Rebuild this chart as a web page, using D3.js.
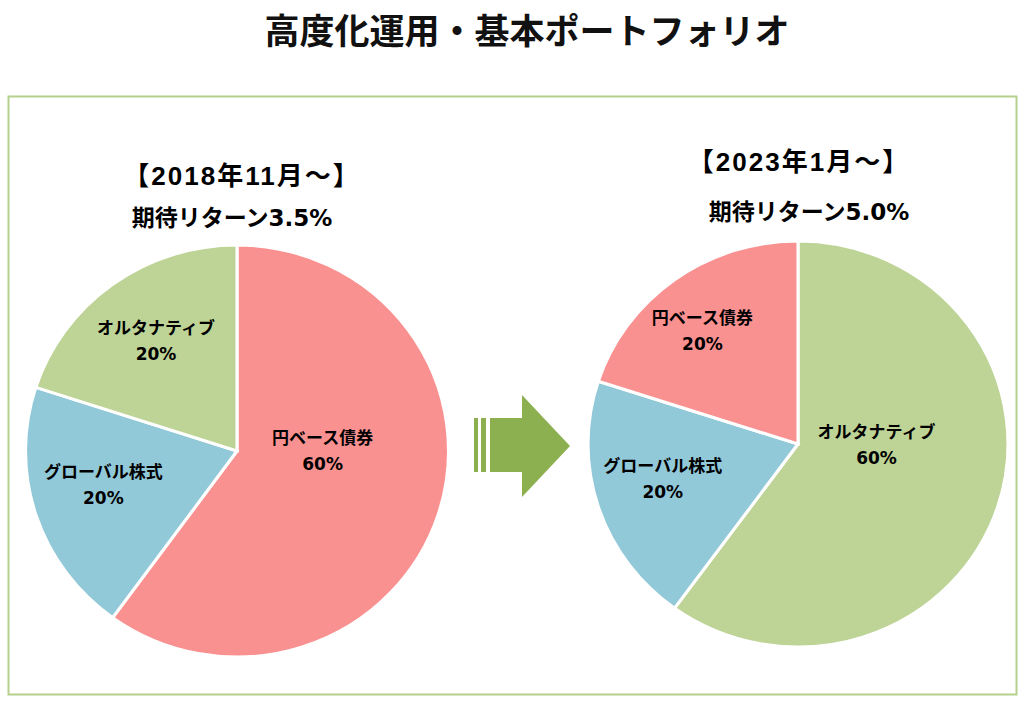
<!DOCTYPE html>
<html>
<head>
<meta charset="utf-8">
<script src="https://cdn.jsdelivr.net/npm/d3@7"></script>
<style>
  body { margin: 0; background: #fff; }
  svg { display: block; font-family: "Noto Sans CJK JP", "Noto Sans", sans-serif; }
</style>
</head>
<body>
<svg id="chart" width="1024" height="704"></svg>
<script>
// data
var categoriesBefore = ["円ベース債券", "グローバル株式", "オルタナティブ"];
var valuesBefore = [60, 20, 20];
var categoriesAfter = ["オルタナティブ", "グローバル株式", "円ベース債券"];
var valuesAfter = [60, 20, 20];
var periodLabels = ["【2018年11月～】", "【2023年1月～】"];
var returnLabels = ["期待リターン3.5%", "期待リターン5.0%"];
var chartTitle = "高度化運用・基本ポートフォリオ";

var colorByCategory = {
  "円ベース債券": "#fa9191",
  "グローバル株式": "#92c9d9",
  "オルタナティブ": "#bed496"
};

var svg = d3.select("#chart");

// frame
svg.append("rect")
  .attr("x", 8.5).attr("y", 96.5)
  .attr("width", 1008).attr("height", 598)
  .attr("fill", "none")
  .attr("stroke", "#b5cf8c")
  .attr("stroke-width", 2);

svg.append("text")
  .attr("x", 527).attr("y", 44)
  .attr("text-anchor", "middle")
  .attr("font-size", 35)
  .attr("font-weight", 700)
  .attr("fill", "#111")
  .text(chartTitle);

var pie = d3.pie().sort(null).value(function (d) { return d.value; });

// label placement: [angle in degrees clockwise from top, radius fraction]
var labelPos = {
  "before": { "円ベース債券": [89, 0.41], "グローバル株式": [256, 0.66], "オルタナティブ": [324, 0.66] },
  "after":  { "オルタナティブ": [90, 0.38], "グローバル株式": [256, 0.675], "円ベース債券": [320, 0.72] }
};

function drawPie(key, cats, vals, cx, cy, rx, ry, period, ret, periodX, periodY, retX, retY) {
  var data = cats.map(function (c, i) { return { name: c, value: vals[i] }; });
  var arc = d3.arc().innerRadius(0).outerRadius(ry);
  var g = svg.append("g").attr("transform", "translate(" + cx + "," + cy + ")");

  g.append("g")
    .attr("transform", "scale(" + (rx / ry) + ",1)")
    .selectAll("path")
    .data(pie(data))
    .join("path")
    .attr("d", arc)
    .attr("fill", function (d) { return colorByCategory[d.data.name]; })
    .attr("stroke", "#fff")
    .attr("stroke-width", 3);

  var lab = g.selectAll("g.lab")
    .data(data)
    .join("g")
    .attr("class", "lab")
    .attr("transform", function (d) {
      var p = labelPos[key][d.name];
      var a = p[0] * Math.PI / 180;
      var rr = (rx + ry) / 2 * p[1];
      return "translate(" + (Math.sin(a) * rr) + "," + (-Math.cos(a) * rr) + ")";
    });
  lab.append("text")
    .attr("text-anchor", "middle")
    .attr("y", -6)
    .attr("font-size", 17)
    .attr("font-weight", 700)
    .text(function (d) { return d.name; });
  lab.append("text")
    .attr("text-anchor", "middle")
    .attr("y", 20)
    .attr("font-family", "'DejaVu Sans', sans-serif")
    .attr("font-size", 17)
    .attr("font-weight", 700)
    .text(function (d) { return d.value + "%"; });

  svg.append("text")
    .attr("x", periodX).attr("y", periodY)
    .attr("text-anchor", "middle")
    .attr("font-family", "'Liberation Sans', 'Noto Sans CJK JP', sans-serif")
    .attr("font-size", 26)
    .attr("font-weight", 700)
    .attr("letter-spacing", 2)
    .text(period);
  svg.append("text")
    .attr("x", retX).attr("y", retY)
    .attr("text-anchor", "middle")
    .attr("font-family", "'DejaVu Sans', 'Noto Sans CJK JP', sans-serif")
    .attr("font-size", 23)
    .attr("font-weight", 700)
    .text(ret);
}

drawPie("before", categoriesBefore, valuesBefore, 237, 451, 211.5, 206,
  periodLabels[0], returnLabels[0], 242, 185, 232, 226);
drawPie("after", categoriesAfter, valuesAfter, 798, 444, 210, 203,
  periodLabels[1], returnLabels[1], 799, 171, 809, 220);

// arrow
var arrow = svg.append("g").attr("fill", "#8cb050");
arrow.append("rect").attr("x", 474).attr("y", 418).attr("width", 4).attr("height", 54);
arrow.append("rect").attr("x", 481).attr("y", 418).attr("width", 5).attr("height", 54);
arrow.append("path").attr("d", "M490,418 L522,418 L522,395 L570,446 L522,497 L522,472 L490,472 Z");
</script>
</body>
</html>
